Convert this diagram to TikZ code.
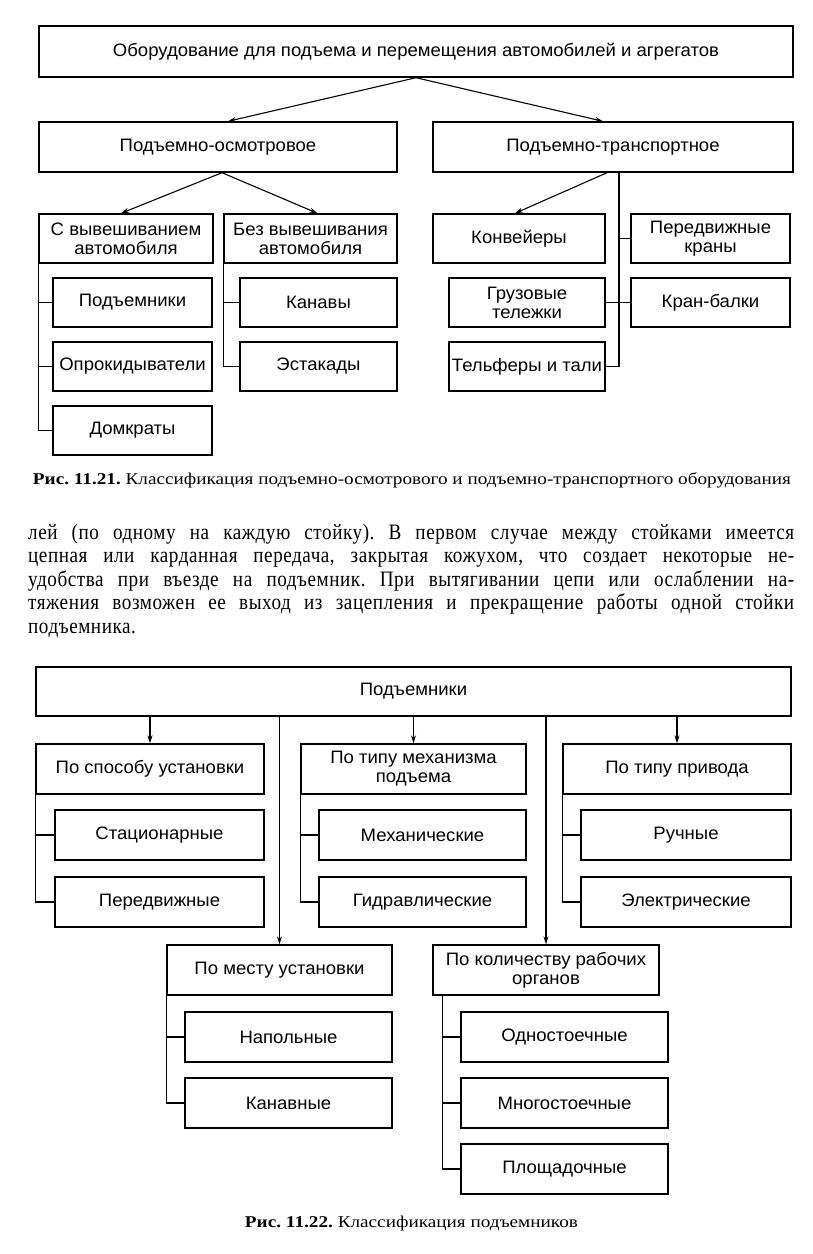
\documentclass[tikz,border=0pt]{standalone}
\usepackage{fontspec}
\setmainfont{Liberation Serif}
\newfontfamily\boxfont[FakeStretch=1.03]{Liberation Sans}
\newfontfamily\parafont[FakeStretch=0.87,LetterSpace=2.5]{Liberation Serif}
\usetikzlibrary{arrows.meta}
\frenchspacing
\begin{document}
\begin{tikzpicture}[x=1pt,y=-1pt,
  box/.style={draw, line width=1.4pt, inner sep=0pt, minimum height=49pt, align=center,
    font=\boxfont\fontsize{18}{19}\selectfont},
  conn/.style={line width=1.1pt},
  arr/.style={conn, -{Stealth[length=8pt,width=5pt]}},
  capt/.style={inner sep=0pt, anchor=base},
  para/.style={inner sep=0pt, anchor=base west, font=\parafont\fontsize{22}{24}\selectfont}]
\useasboundingbox (0,0) rectangle (812,1254);
% ---------- Figure 11.21 ----------
\node[box, minimum width=754pt, minimum height=51pt] (top) at (416,51.5) {Оборудование для подъема и перемещения автомобилей и агрегатов};
\node[box, minimum width=358pt, minimum height=50pt] (po) at (218,147) {Подъемно-осмотровое};
\node[box, minimum width=360pt, minimum height=50pt] (ptr) at (613,147) {Подъемно-транспортное};
\node[box, minimum width=174pt] (sv) at (126,238.5) {С вывешиванием\\автомобиля};
\node[box, minimum width=173pt] (bv) at (310.5,238.5) {Без вывешивания\\автомобиля};
\node[box, minimum width=159pt] (pd) at (132.5,302.5) {Подъемники};
\node[box, minimum width=159pt] (op) at (132.5,366.5) {Опрокидыватели};
\node[box, minimum width=159pt] (dk) at (132.5,430.5) {Домкраты};
\node[box, minimum width=157pt] (kn) at (318.5,302.5) {Канавы};
\node[box, minimum width=157pt] (es) at (318.5,366.5) {Эстакады};
\node[box, minimum width=172pt] (kv) at (519,238.5) {Конвейеры};
\node[box, minimum width=159pt] (pk) at (710.5,238.5) {Передвижные\\краны};
\node[box, minimum width=156pt] (gt) at (527,302.5) {Грузовые\\тележки};
\node[box, minimum width=159pt] (kb) at (710.5,302.5) {Кран-балки};
\node[box, minimum width=156pt] (tt) at (527,366.5) {Тельферы и~тали};

\draw[arr] (top.south) -- ([xshift=10pt]po.north);
\draw[arr] (top.south) -- ([xshift=-10pt]ptr.north);
\draw[arr] ([xshift=4pt]po.south) -- ([xshift=-5pt]sv.north);
\draw[arr] ([xshift=4pt]po.south) -- ([xshift=7pt]bv.north);
\draw[arr] ([xshift=-6pt]ptr.south) -- ([xshift=-4pt]kv.north);
\draw[conn] (sv.south west) |- (pd.west);
\draw[conn] (sv.south west) |- (op.west);
\draw[conn] (sv.south west) |- (dk.west);
\draw[conn] (bv.south west) |- (kn.west);
\draw[conn] (bv.south west) |- (es.west);
\coordinate (trunk) at ([xshift=6pt]ptr.south);
\draw[conn] (trunk) |- (tt.east);
\draw[conn] (trunk |- pk.west) -- (pk.west);
\draw[conn] (gt.east) -- (kb.west);

\node[capt] (cap1) at (412,484) {\resizebox{758pt}{\height}{\fontsize{16.5}{19}\selectfont\textbf{Рис. 11.21.} Классификация подъемно-осмотрового и подъемно-транспортного оборудования}};

% ---------- Paragraph ----------
\node[para] (l1) at (28,539) {\makebox[766pt][s]{лей (по одному на каждую стойку). В первом случае между стойками имеется}};
\node[para] (l2) at (28,562.6) {\makebox[766pt][s]{цепная или карданная передача, закрытая кожухом, что создает некоторые не-}};
\node[para] (l3) at (28,586.2) {\makebox[766pt][s]{удобства при въезде на подъемник. При вытягивании цепи или ослаблении на-}};
\node[para] (l4) at (28,609.8) {\makebox[766pt][s]{тяжения возможен ее выход из зацепления и прекращение работы одной стойки}};
\node[para] (l5) at (28,633.4) {подъемника.};

% ---------- Figure 11.22 ----------
\node[box, minimum width=755pt] (pod) at (413.5,691.5) {Подъемники};
\node[box, minimum width=228pt, minimum height=50pt] (r1a) at (150,769) {По способу установки};
\node[box, minimum width=225pt, minimum height=50pt] (r1b) at (413.5,769) {По типу механизма\\подъема};
\node[box, minimum width=228pt, minimum height=50pt] (r1c) at (677,769) {По типу привода};
\node[box, minimum width=209pt, minimum height=50pt] (st) at (159.5,835) {Стационарные};
\node[box, minimum width=209pt, minimum height=50pt] (pr) at (159.5,902) {Передвижные};
\node[box, minimum width=207pt, minimum height=50pt] (me) at (422.5,835) {Механические};
\node[box, minimum width=207pt, minimum height=50pt] (gi) at (422.5,902) {Гидравлические};
\node[box, minimum width=210pt, minimum height=50pt] (ru) at (686,835) {Ручные};
\node[box, minimum width=210pt, minimum height=50pt] (el) at (686,902) {Электрические};
\node[box, minimum width=225pt, minimum height=50pt] (r2a) at (279.5,970) {По месту установки};
\node[box, minimum width=226pt, minimum height=50pt] (r2b) at (546,970) {По количеству рабочих\\органов};
\node[box, minimum width=207pt, minimum height=50pt] (na) at (288.5,1037) {Напольные};
\node[box, minimum width=207pt, minimum height=50pt] (ka) at (288.5,1103) {Канавные};
\node[box, minimum width=207pt, minimum height=50pt] (od) at (564.5,1037) {Одностоечные};
\node[box, minimum width=207pt, minimum height=50pt] (mn) at (564.5,1103) {Многостоечные};
\node[box, minimum width=207pt, minimum height=50pt] (pl) at (564.5,1169) {Площадочные};

\draw[arr] (pod.south -| r1a.north) -- (r1a.north);
\draw[arr] (pod.south -| r1b.north) -- (r1b.north);
\draw[arr] (pod.south -| r1c.north) -- (r1c.north);
\draw[arr] (pod.south -| r2a.north) -- (r2a.north);
\draw[arr] (pod.south -| r2b.north) -- (r2b.north);
\draw[conn] (r1a.south west) |- (st.west);
\draw[conn] (r1a.south west) |- (pr.west);
\draw[conn] (r1b.south west) |- (me.west);
\draw[conn] (r1b.south west) |- (gi.west);
\draw[conn] (r1c.south west) |- (ru.west);
\draw[conn] (r1c.south west) |- (el.west);
\draw[conn] (r2a.south west) |- (na.west);
\draw[conn] (r2a.south west) |- (ka.west);
\coordinate (r2bt) at ([xshift=10pt]r2b.south west);
\draw[conn] (r2bt) |- (od.west);
\draw[conn] (r2bt) |- (mn.west);
\draw[conn] (r2bt) |- (pl.west);

\node[capt] (cap2) at (411.5,1227) {\resizebox{333pt}{\height}{\fontsize{16.5}{19}\selectfont\textbf{Рис. 11.22.} Классификация подъемников}};
\end{tikzpicture}
\end{document}
